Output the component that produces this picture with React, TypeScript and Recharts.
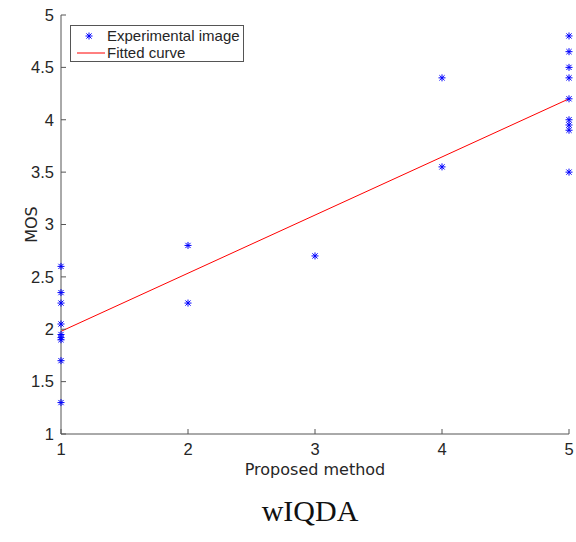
import React from 'react';
import { ComposedChart, Scatter, Line, XAxis, YAxis } from 'recharts';

const pointX = [1, 1, 1, 1, 1, 1, 1, 1, 1, 2, 2, 3, 4, 4, 5, 5, 5, 5, 5, 5, 5, 5, 5];
const pointY = [2.6, 2.35, 2.25, 2.05, 1.95, 1.92, 1.9, 1.7, 1.3, 2.8, 2.25, 2.7, 4.4, 3.55, 4.8, 4.65, 4.5, 4.4, 4.2, 4.0, 3.95, 3.9, 3.5];
const fitX = [1, 5];
const fitY = [1.98, 4.2];
const xTicks = [1, 2, 3, 4, 5];
const yTicks = [1, 1.5, 2, 2.5, 3, 3.5, 4, 4.5, 5];
const seriesNames = ['Experimental image', 'Fitted curve'];
const xLabel = 'Proposed method';
const yLabel = 'MOS';
const title = 'wIQDA';

const points = pointX.map((x, i) => ({ x, y: pointY[i] }));
const fit = fitX.map((x, i) => ({ x, y: fitY[i] }));

const TICK_FONT = '"Liberation Sans", Arial, sans-serif';
const LABEL_FONT = '"DejaVu Sans", sans-serif';
const AX = '#555555';
const TXT = '#262626';

const Star = (props: any) => {
  const { cx, cy } = props;
  if (cx == null || cy == null) return null;
  const r = 3.5;
  const d = 2.6;
  return (
    <g stroke="#0000ff" strokeWidth={1}>
      <line x1={cx - r} y1={cy} x2={cx + r} y2={cy} />
      <line x1={cx} y1={cy - r} x2={cx} y2={cy + r} />
      <line x1={cx - d} y1={cy - d} x2={cx + d} y2={cy + d} />
      <line x1={cx - d} y1={cy + d} x2={cx + d} y2={cy - d} />
    </g>
  );
};

const LegendBox = () => (
  <div
    style={{
      position: 'absolute',
      left: 70,
      top: 25,
      width: 174,
      height: 37,
      border: '1px solid #555555',
      background: '#fff',
      fontFamily: TICK_FONT,
      fontSize: 15,
      color: TXT,
      boxSizing: 'border-box',
    }}
  >
    <svg width={40} height={35} style={{ position: 'absolute', left: 0, top: 0 }}>
      <Star cx={18} cy={10} />
      <line x1={6} y1={27} x2={34} y2={27} stroke="#ff0000" strokeWidth={1} />
    </svg>
    <div style={{ position: 'absolute', left: 36, top: 1, lineHeight: '17px', whiteSpace: 'nowrap' }}>
      {seriesNames[0]}
    </div>
    <div style={{ position: 'absolute', left: 36, top: 18, lineHeight: '17px', whiteSpace: 'nowrap' }}>
      {seriesNames[1]}
    </div>
  </div>
);

export default function App() {
  return (
    <div style={{ width: 576, height: 534, background: '#fff', position: 'relative' }}>
      <style>{'body{margin:0;}'}</style>
      <ComposedChart
        width={576}
        height={488}
        margin={{ top: 15, right: 7, left: 8, bottom: 0 }}
      >
        <XAxis
          type="number"
          dataKey="x"
          domain={[1, 5]}
          ticks={xTicks}
          interval={0}
          height={54}
          stroke={AX}
          tickSize={-5}
          tickMargin={14}
          tick={{ fill: TXT, fontSize: 16.5, fontFamily: TICK_FONT }}
          label={{ value: xLabel, position: 'insideBottom', offset: 13, fill: TXT, fontSize: 16, fontFamily: LABEL_FONT }}
        />
        <YAxis
          type="number"
          dataKey="y"
          domain={[1, 5]}
          ticks={yTicks}
          interval={0}
          width={53}
          stroke={AX}
          tickSize={-5}
          tickMargin={12}
          tick={{ fill: TXT, fontSize: 16.5, fontFamily: TICK_FONT }}
          label={{ value: yLabel, angle: -90, position: 'center', dx: -3, fill: TXT, fontSize: 16, fontFamily: LABEL_FONT }}
        />
        <Line
          data={fit}
          dataKey="y"
          stroke="#ff0000"
          strokeWidth={1}
          dot={false}
          activeDot={false}
          isAnimationActive={false}
        />
        <Scatter data={points} dataKey="y" shape={Star} isAnimationActive={false} />
      </ComposedChart>
      <LegendBox />
      <div
        style={{
          width: 120,
          marginLeft: 250,
          textAlign: 'center',
          fontFamily: '"Liberation Serif", "DejaVu Serif", serif',
          fontSize: 30,
          height: 46,
          lineHeight: '46px',
          color: '#111',
          whiteSpace: 'nowrap',
        }}
      >
        {title}
      </div>
    </div>
  );
}
